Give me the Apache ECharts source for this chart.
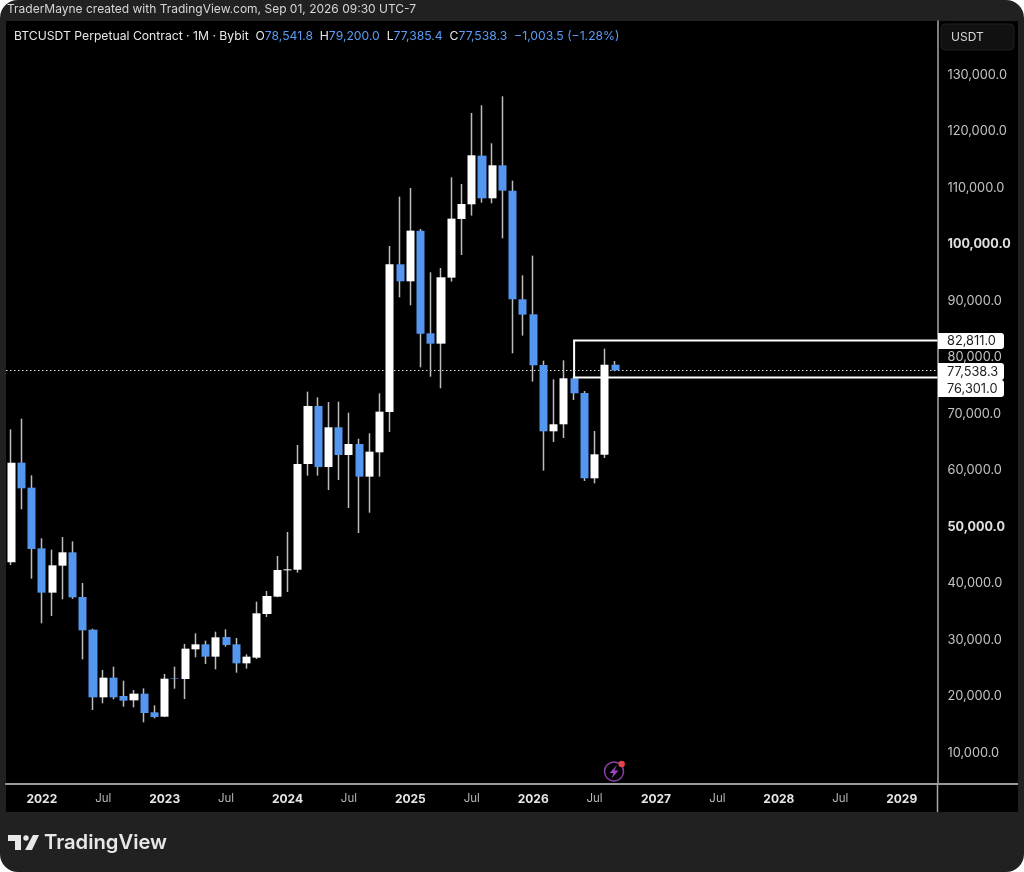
<!DOCTYPE html>
<html>
<head>
<meta charset="utf-8">
<style>html,body{margin:0;padding:0;background:#fff}#c{width:1024px;height:872px}</style>
<script src="https://cdn.jsdelivr.net/npm/echarts@6/dist/echarts.min.js"></script>
</head>
<body>
<div id="c"></div>
<script>
const months = ['2021-10','2021-11','2021-12',
'2022-01','2022-02','2022-03','2022-04','2022-05','2022-06','2022-07','2022-08','2022-09','2022-10','2022-11','2022-12',
'2023-01','2023-02','2023-03','2023-04','2023-05','2023-06','2023-07','2023-08','2023-09','2023-10','2023-11','2023-12',
'2024-01','2024-02','2024-03','2024-04','2024-05','2024-06','2024-07','2024-08','2024-09','2024-10','2024-11','2024-12',
'2025-01','2025-02','2025-03','2025-04','2025-05','2025-06','2025-07','2025-08','2025-09','2025-10','2025-11','2025-12',
'2026-01','2026-02','2026-03','2026-04','2026-05','2026-06','2026-07','2026-08','2026-09','2026-10','2026-11','2026-12',
'2027-01','2027-02','2027-03','2027-04','2027-05','2027-06','2027-07','2027-08','2027-09','2027-10','2027-11','2027-12',
'2028-01','2028-02','2028-03','2028-04','2028-05','2028-06','2028-07','2028-08','2028-09','2028-10','2028-11','2028-12',
'2029-01','2029-02','2029-03','2029-04'];
const opens = [43571,61212,56787,46049,38202,42981,45341,37435,31653,19676,23157,19912,19145,20325,17021,16254,23100,22921,28172,29057,26874,30355,29057,25694,26697,34426,37494,42150,42273,60976,71242,60445,67466,62569,64516,58734,63041,70180,96317,93308,102276,84104,82275,93957,104341,106937,115551,107999,113840,109356,90122,87467,78499,66758,68000,76139,73543,58439,62628,78541.8];
const closes = [61212,56669,45931,38202,43040,45341,37376,31535,19676,23157,19676,19086,20325,16903,16195,22980,23000,28290,29057,26874,30296,28939,25694,26874,34544,37612,42214,42330,60976,71242,60445,67466,62569,64516,58734,63159,70239,96317,93308,102276,84045,82275,94016,104400,106996,115610,107999,113840,109356,90122,87408,78440,66758,68000,76139,73484,58439,62687,78541.8,77538.3];
const lows = [43099,52952,40680,32774,34072,37022,37100,26402,17434,18614,19322,18024,17906,15251,15959,16200,21210,19381,26756,25576,24632,28644,24042,24750,26460,33895,37400,38320,41742,58911,58911,56374,58144,53188,48763,52356,58734,66640,90476,89060,78086,76434,74369,93249,97969,104931,107232,107114,100919,80564,83691,75549,59796,64870,65578,72304,57967,57554,62038,77385.4];
const highs = [67112,69000,58970,47819,45813,48055,47288,39913,31830,24514,25104,22626,20974,21269,18260,23806,25104,29116,31004,29706,31299,31712,30178,27287,36609,38497,44692,48940,64339,73779,72776,71950,72009,70062,65460,66404,73484,99562,108294,109828,102571,94901,95668,111716,110536,123103,124460,117734,126053,111126,94370,97851,79266,75962,79325,76400,73897,66817,81390,79200];
const xTickLabels = {'2022-01':'2022','2022-07':'Jul','2023-01':'2023','2023-07':'Jul','2024-01':'2024','2024-07':'Jul','2025-01':'2025','2025-07':'Jul','2026-01':'2026','2026-07':'Jul','2027-01':'2027','2027-07':'Jul','2028-01':'2028','2028-07':'Jul','2029-01':'2029'};
const yTicks = [10000,20000,30000,40000,50000,60000,70000,80000,90000,100000,110000,120000,130000];
const boldTicks = [50000,100000];
const lastPrice = 77538.3;
const trendStart = '2026-05';
const trendHigh = 82811;
const trendLow = 76301;
const priceTags = ['82,811.0','77,538.3','76,301.0'];
const creditLine = 'TraderMayne created with TradingView.com, Sep 01, 2026 09:30 UTC-7';
const symbolLine = 'BTCUSDT Perpetual Contract · 1M · Bybit';
const ohlcLabels = [['O','78,541.8'],['H','79,200.0'],['L','77,385.4'],['C','77,538.3']];
const changeText = '−1,003.5 (−1.28%)';

const UP = '#ffffff', DOWN = '#5596ee', WICK = '#bcbcbc';
const FONT = 'Inter, "Liberation Sans", sans-serif';
const fmtY = v => v.toLocaleString('en-US', {minimumFractionDigits: 1, maximumFractionDigits: 1});
const full = opens.map((o, i) => [o, closes[i], lows[i], highs[i]]);
const bodies = opens.map((o, i) => [o, closes[i], Math.min(o, closes[i]), Math.max(o, closes[i])]);

const chart = echarts.init(document.getElementById('c'), null, {renderer: 'canvas'});
const tag = (text, top, h) => [
  {type: 'rect', shape: {x: 938, y: top, width: 66, height: h, r: [0, 3, 3, 0]}, style: {fill: '#ffffff'}, z: 50, silent: true},
  {type: 'text', x: 947, y: top + h / 2 + 0.5, style: {text, fill: '#1c1c1c', font: '12.8px ' + FONT, textVerticalAlign: 'middle'}, z: 51, silent: true}
];
chart.setOption({
  animation: false,
  backgroundColor: '#ffffff',
  title: [
    {text: creditLine, left: 7, top: 3, padding: 0, textStyle: {color: '#d6d6d6', fontFamily: FONT, fontSize: 12, fontWeight: 'normal'}},
    {text: '{w|' + symbolLine + '}  ' + ohlcLabels.map(p => '{w|' + p[0] + '}{b|' + p[1] + '}  ').join('') + '{b|' + changeText + '}',
     left: 14, top: 30, padding: 0,
     textStyle: {fontWeight: 'normal', fontSize: 12.2, fontFamily: FONT, rich: {
       w: {color: '#e8e8e8', fontFamily: FONT, fontSize: 12.2, fontWeight: 'normal'},
       b: {color: '#5b9cf6', fontFamily: FONT, fontSize: 12.2, fontWeight: 'normal'}
     }}}
  ],
  grid: {left: 6, right: 86.5, top: 21, bottom: 88, containLabel: false},
  xAxis: {
    type: 'category', data: months, boundaryGap: true,
    axisLine: {lineStyle: {color: '#9a9a9a', width: 2}},
    axisTick: {show: false}, splitLine: {show: false},
    axisLabel: {
      interval: (i, v) => v in xTickLabels,
      formatter: v => { const t = xTickLabels[v]; return t === 'Jul' ? '{m|Jul}' : '{y|' + t + '}'; },
      margin: 9, hideOverlap: false,
      rich: {
        y: {color: '#e6e6e6', fontFamily: FONT, fontSize: 12, fontWeight: 'bold'},
        m: {color: '#b5b5b5', fontFamily: FONT, fontSize: 11.5}
      }
    }
  },
  yAxis: {
    type: 'value', position: 'right', min: 4336, max: 139380, scale: true,
    axisLine: {show: true, lineStyle: {color: '#a8a8a8', width: 1.5}},
    axisTick: {show: false}, splitLine: {show: false},
    axisLabel: {
      customValues: yTicks, margin: 10,
      formatter: v => (boldTicks.includes(v) ? '{b|' : '{n|') + fmtY(v) + '}',
      rich: {
        n: {color: '#c4c4c4', fontFamily: FONT, fontSize: 12.8, padding: [2, 0, 0, 0]},
        b: {color: '#e0e0e0', fontFamily: FONT, fontSize: 12.6, fontWeight: 'bold', padding: [2, 0, 0, 0]}
      }
    }
  },
  series: [
    {name: 'Wicks', type: 'candlestick', data: full, barWidth: 1, silent: true,
     itemStyle: {color: WICK, color0: WICK, borderColor: WICK, borderColor0: WICK, borderWidth: 1.5}, z: 2},
    {name: 'BTCUSDT', type: 'candlestick', data: bodies, barWidth: 8.6, silent: true,
     itemStyle: {color: UP, color0: DOWN, borderColor: UP, borderColor0: DOWN, borderWidth: 0}, z: 3,
     markLine: {silent: true, symbol: 'none', label: {show: false}, z: 1,
       lineStyle: {color: '#e2e2e2', type: [1.5, 2.5], width: 1},
       data: [{yAxis: lastPrice}]}},
    {name: 'Range', type: 'custom', silent: true, z: 4, clip: false,
     data: [[trendStart, trendHigh, trendLow]],
     encode: {x: 0, y: [1, 2]},
     renderItem: (params, api) => {
       const a = api.coord([api.value(0), api.value(1)]);
       const b = api.coord([api.value(0), api.value(2)]);
       const right = params.coordSys.x + params.coordSys.width;
       return {type: 'polyline', shape: {points: [[right, a[1]], [a[0], a[1]], [b[0], b[1]], [right, b[1]]]},
               style: {stroke: '#ffffff', lineWidth: 2, fill: null}};
     }}
  ],
  graphic: [
    {type: 'rect', shape: {x: 0, y: 0, width: 1024, height: 872, r: 18}, style: {fill: '#212121'}, z: -20, silent: true},
    {type: 'rect', shape: {x: 6, y: 21, width: 1012, height: 791}, style: {fill: '#000000'}, z: -19, silent: true},
    {type: 'line', shape: {x1: 937.5, y1: 784, x2: 1018, y2: 784}, style: {stroke: '#9a9a9a', lineWidth: 2}, z: 5, silent: true},
    {type: 'line', shape: {x1: 937.5, y1: 784, x2: 937.5, y2: 812}, style: {stroke: '#a8a8a8', lineWidth: 1.5}, z: 5, silent: true},
    {type: 'rect', shape: {x: 941, y: 24, width: 73, height: 26, r: 4}, style: {fill: '#111111', stroke: '#1e1e1e', lineWidth: 1}, z: 5, silent: true},
    {type: 'text', x: 951, y: 37, style: {text: 'USDT', fill: '#d8d8d8', font: '12px ' + FONT, textVerticalAlign: 'middle'}, z: 6, silent: true},
    ...tag(priceTags[0], 333, 16),
    ...tag(priceTags[1], 363, 17),
    ...tag(priceTags[2], 380, 17),
    {type: 'polygon', shape: {points: [[8,835],[21,835],[21,850],[15,850],[15,841],[8,841]]}, style: {fill: '#e8e8e8'}, z: 5, silent: true},
    {type: 'polygon', shape: {points: [[33,835],[39,835],[32,850],[25,850]]}, style: {fill: '#e8e8e8'}, z: 5, silent: true},
    {type: 'circle', shape: {cx: 26, cy: 838, r: 2.7}, style: {fill: '#e8e8e8'}, z: 5, silent: true},
    {type: 'text', x: 44, y: 843, style: {text: 'TradingView', fill: '#e8e8e8', font: '600 20.2px ' + FONT, textVerticalAlign: 'middle'}, z: 5, silent: true},
    {type: 'circle', shape: {cx: 614, cy: 771.5, r: 9.5}, style: {fill: 'none', stroke: '#8b3fa8', lineWidth: 1.5}, z: 5, silent: true},
    {type: 'polygon', shape: {points: [[617,765],[609.5,773],[613.5,773],[611.5,778.5],[618.5,770.5],[614.5,770.5]]}, style: {fill: '#9a45c4'}, z: 5, silent: true},
    {type: 'circle', shape: {cx: 621.7, cy: 764, r: 3.2}, style: {fill: '#e8424a'}, z: 6, silent: true}
  ]
});
</script>
</body>
</html>
